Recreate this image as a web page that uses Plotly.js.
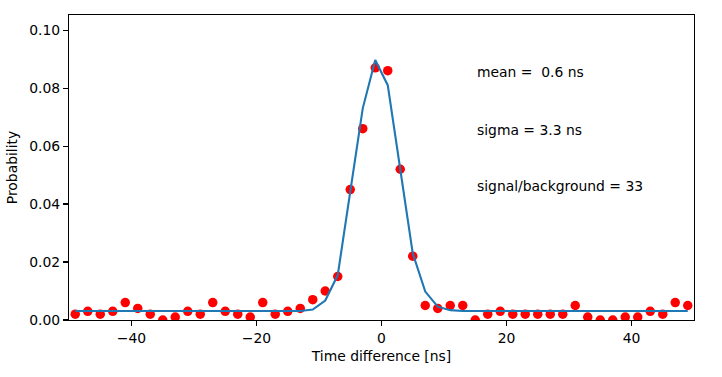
<!DOCTYPE html>
<html>
<head>
<meta charset="utf-8">
<script src="https://cdn.plot.ly/plotly-3.0.1.min.js"></script>
<style>html,body{margin:0;padding:0;background:#fff;}#chart{width:722px;height:377px;}</style>
</head>
<body>
<div id="chart"></div>
<script>
const timeDiff = [-49,-47,-45,-43,-41,-39,-37,-35,-33,-31,-29,-27,-25,-23,-21,-19,-17,-15,-13,-11,-9,-7,-5,-3,-1,1,3,5,7,9,11,13,15,17,19,21,23,25,27,29,31,33,35,37,39,41,43,45,47,49];
const probability = [0.002,0.003,0.002,0.003,0.006,0.004,0.002,0.0,0.001,0.003,0.002,0.006,0.003,0.002,0.001,0.006,0.002,0.003,0.004,0.007,0.010,0.015,0.045,0.066,0.087,0.086,0.052,0.022,0.005,0.004,0.005,0.005,0.0,0.002,0.003,0.002,0.002,0.002,0.002,0.002,0.005,0.001,0.0,0.0,0.001,0.001,0.003,0.002,0.006,0.005];
const fitCurve = [0.0031,0.0031,0.0031,0.0031,0.0031,0.0031,0.0031,0.0031,0.0031,0.0031,0.0031,0.0031,0.0031,0.0031,0.0031,0.0031,0.0031,0.0031,0.0031,0.0036,0.0067,0.0155,0.044,0.073,0.0897,0.081,0.052,0.023,0.0098,0.0046,0.0034,0.0031,0.0031,0.0031,0.0031,0.0031,0.0031,0.0031,0.0031,0.0031,0.0031,0.0031,0.0031,0.0031,0.0031,0.0031,0.0031,0.0031,0.0031,0.0031];
const yTicks = [0, 0.02, 0.04, 0.06, 0.08, 0.10];
const yTickText = ["0.00","0.02","0.04","0.06","0.08","0.10"];
const xTicks = [-40, -20, 0, 20, 40];
const xTickText = ["\u221240","\u221220","0","20","40"];
const notes = ["mean =  0.6 ns", "sigma = 3.3 ns", "signal/background = 33"];
const noteY = [0.0855, 0.0655, 0.0462];
const noteX = 15;

const font = {family: "DejaVu Sans, sans-serif", size: 13.9, color: "#000"};

const traces = [
  {x: timeDiff, y: probability, mode: "markers", type: "scatter",
   marker: {color: "#ff0000", size: 9.5}, cliponaxis: true, hoverinfo: "skip"},
  {x: timeDiff, y: fitCurve, mode: "lines", type: "scatter",
   line: {color: "#1f77b4", width: 2.1}, hoverinfo: "skip"}
];

const layout = {
  width: 722, height: 377,
  margin: {l: 69, r: 28, t: 15, b: 57, pad: 0},
  paper_bgcolor: "#fff", plot_bgcolor: "#fff",
  showlegend: false,
  font: font,
  xaxis: {
    range: [-50, 50], showgrid: false, zeroline: false,
    showline: true, mirror: true, linecolor: "#000", linewidth: 1.1,
    ticks: "outside", ticklen: 5, tickwidth: 1.1, tickcolor: "#000",
    tickmode: "array", tickvals: xTicks, ticktext: xTickText,
    tickfont: font,
    title: {text: "Time difference [ns]", font: font, standoff: 6}
  },
  yaxis: {
    range: [0, 0.1052], showgrid: false, zeroline: false,
    showline: true, mirror: true, linecolor: "#000", linewidth: 1.1,
    ticks: "outside", ticklen: 5, tickwidth: 1.1, tickcolor: "#000",
    tickmode: "array", tickvals: yTicks, ticktext: yTickText,
    tickfont: font,
    title: {text: "Probability", font: font, standoff: 8}
  },
  annotations: notes.map((t, i) => ({
    x: noteX, y: noteY[i], xref: "x", yref: "y", text: t,
    showarrow: false, xanchor: "left", yanchor: "middle", font: font
  }))
};

Plotly.newPlot("chart", traces, layout, {staticPlot: true, displayModeBar: false});
</script>
</body>
</html>
